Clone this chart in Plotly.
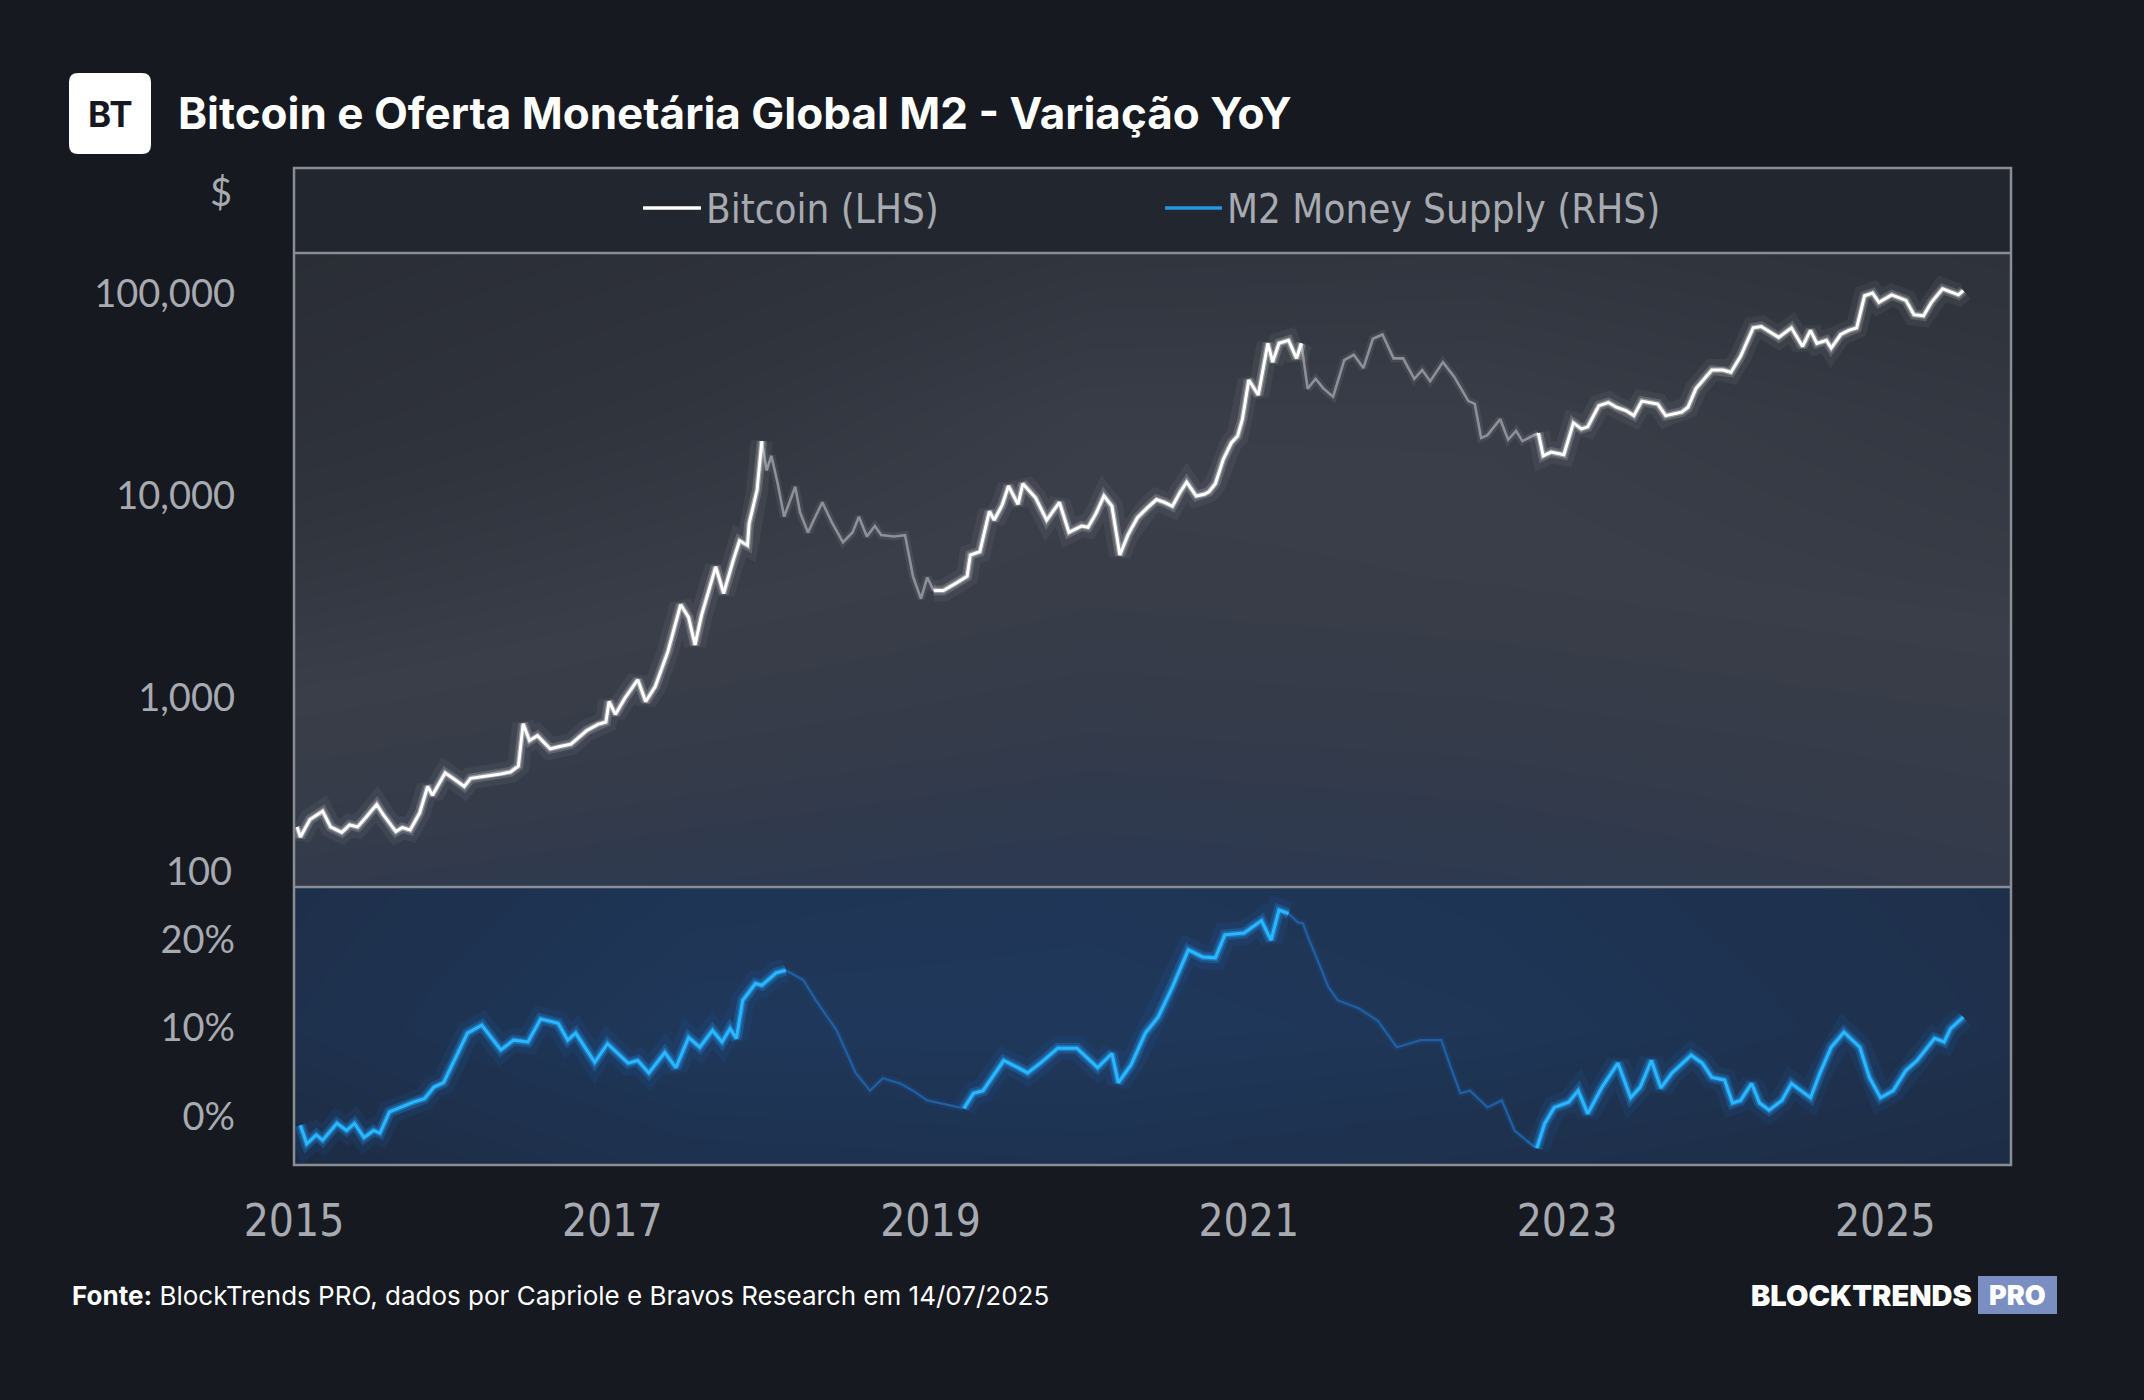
import plotly.graph_objects as go

# ---------------- data ----------------
btc_year = [2015.02, 2015.04, 2015.10, 2015.18, 2015.23, 2015.30, 2015.35, 2015.40, 2015.45, 2015.52,
            2015.56, 2015.64, 2015.68, 2015.73, 2015.79, 2015.84, 2015.87, 2015.95, 2016.01, 2016.07,
            2016.11, 2016.16, 2016.23, 2016.30, 2016.36, 2016.41, 2016.44, 2016.48, 2016.53, 2016.61,
            2016.67, 2016.74, 2016.84, 2016.91, 2016.96, 2016.98, 2017.02, 2017.08, 2017.16, 2017.21,
            2017.27, 2017.35, 2017.43, 2017.48, 2017.52, 2017.56, 2017.65, 2017.70, 2017.76, 2017.80,
            2017.85, 2017.86, 2017.91, 2017.94, 2017.97, 2018.00, 2018.04, 2018.08, 2018.12, 2018.15,
            2018.18, 2018.23, 2018.28, 2018.32, 2018.38, 2018.45, 2018.51, 2018.55, 2018.60, 2018.65,
            2018.69, 2018.77, 2018.84, 2018.89, 2018.94, 2018.98, 2019.02, 2019.08, 2019.16, 2019.23,
            2019.25, 2019.31, 2019.37, 2019.40, 2019.45, 2019.49, 2019.55, 2019.58, 2019.66, 2019.73,
            2019.81, 2019.87, 2019.95, 2019.99, 2020.04, 2020.09, 2020.14, 2020.19, 2020.24, 2020.30,
            2020.36, 2020.42, 2020.47, 2020.52, 2020.57, 2020.61, 2020.67, 2020.72, 2020.75, 2020.79,
            2020.84, 2020.89, 2020.93, 2020.96, 2021.00, 2021.06, 2021.12, 2021.15, 2021.19, 2021.25,
            2021.30, 2021.33, 2021.37, 2021.42, 2021.47, 2021.53, 2021.60, 2021.66, 2021.72, 2021.78,
            2021.84, 2021.91, 2021.97, 2022.04, 2022.09, 2022.14, 2022.22, 2022.29, 2022.38, 2022.42,
            2022.46, 2022.50, 2022.58, 2022.63, 2022.68, 2022.72, 2022.82, 2022.85, 2022.90, 2022.98,
            2023.04, 2023.09, 2023.13, 2023.20, 2023.26, 2023.31, 2023.37, 2023.42, 2023.47, 2023.57,
            2023.62, 2023.72, 2023.76, 2023.81, 2023.91, 2023.98, 2024.03, 2024.09, 2024.17, 2024.22,
            2024.33, 2024.41, 2024.48, 2024.53, 2024.57, 2024.63, 2024.66, 2024.72, 2024.77, 2024.82,
            2024.87, 2024.92, 2024.96, 2025.04, 2025.13, 2025.18, 2025.24, 2025.29, 2025.36, 2025.46,
            2025.49]
btc_price = [230, 205, 250, 275, 230, 216, 235, 230, 255, 297,
             265, 218, 228, 222, 270, 365, 330, 425, 395, 365,
             400, 405, 410, 420, 430, 460, 745, 615, 650, 560,
             575, 590, 690, 740, 760, 960, 830, 1000, 1230, 960,
             1140, 1700, 2900, 2500, 1830, 2550, 4460, 3300, 4800, 6000,
             5700, 7300, 10700, 18700, 13400, 15800, 11500, 7900, 9500, 11100,
             8300, 6600, 8000, 9300, 7400, 5900, 6600, 7900, 6300, 7100,
             6400, 6300, 6400, 4000, 3100, 3950, 3400, 3400, 3700, 4000,
             5100, 5300, 8400, 7600, 9000, 11200, 9100, 11500, 9800, 7600,
             9300, 6600, 7100, 7000, 8200, 10000, 8900, 5100, 6400, 7800,
             8700, 9600, 9300, 8900, 10500, 11700, 10000, 10200, 10500, 11500,
             15200, 18300, 19800, 24000, 37500, 31600, 57000, 46000, 57000, 59000,
             48000, 57000, 34000, 38000, 34000, 31000, 47000, 50000, 43000, 60000,
             63000, 48000, 48000, 38000, 42000, 37000, 46000, 39000, 29500, 28600,
             19400, 20000, 24000, 19000, 21000, 18700, 20500, 15800, 16500, 16000,
             23000, 21500, 22000, 28000, 29000, 27500, 26500, 25000, 29500, 28500,
             25000, 26000, 27500, 34000, 42000, 42000, 41000, 49000, 68000, 69000,
             61000, 68000, 55000, 66000, 57000, 59000, 54000, 63000, 66000, 68000,
             98000, 101000, 91000, 99000, 93000, 79000, 78000, 91000, 106000, 99000,
             104000]

m2_year = [2015.04, 2015.08, 2015.14, 2015.18, 2015.27, 2015.33, 2015.38, 2015.44, 2015.50, 2015.54,
           2015.60, 2015.69, 2015.75, 2015.82, 2015.88, 2015.94, 2016.00, 2016.09, 2016.18, 2016.30,
           2016.38, 2016.47, 2016.55, 2016.66, 2016.72, 2016.77, 2016.89, 2016.97, 2017.10, 2017.16,
           2017.23, 2017.33, 2017.40, 2017.48, 2017.55, 2017.63, 2017.69, 2017.74, 2017.78, 2017.82,
           2017.90, 2017.94, 2018.03, 2018.09, 2018.20, 2018.28, 2018.41, 2018.53, 2018.62, 2018.70,
           2018.81, 2018.89, 2018.98, 2019.13, 2019.21, 2019.27, 2019.33, 2019.46, 2019.55, 2019.61,
           2019.69, 2019.80, 2019.92, 2020.05, 2020.14, 2020.18, 2020.26, 2020.35, 2020.43, 2020.52,
           2020.62, 2020.71, 2020.79, 2020.85, 2020.97, 2021.08, 2021.14, 2021.19, 2021.25, 2021.31,
           2021.34, 2021.38, 2021.44, 2021.50, 2021.56, 2021.69, 2021.81, 2021.93, 2022.08, 2022.21,
           2022.27, 2022.33, 2022.39, 2022.50, 2022.59, 2022.67, 2022.77, 2022.81, 2022.86, 2022.92,
           2023.01, 2023.07, 2023.13, 2023.22, 2023.32, 2023.40, 2023.46, 2023.53, 2023.59, 2023.66,
           2023.78, 2023.85, 2023.91, 2023.99, 2024.04, 2024.09, 2024.16, 2024.21, 2024.27, 2024.35,
           2024.41, 2024.47, 2024.53, 2024.59, 2024.66, 2024.74, 2024.84, 2024.90, 2024.97, 2025.05,
           2025.13, 2025.20, 2025.31, 2025.37, 2025.41, 2025.49]
m2_yoy = [-1.0, -3.1, -2.1, -2.7, -0.8, -1.6, -0.8, -2.4, -1.6, -1.9,
          0.5, 1.2, 1.6, 2.0, 3.3, 3.8, 6.0, 9.4, 10.3, 7.5,
          8.6, 8.4, 11.0, 10.5, 8.6, 9.4, 6.1, 8.2, 6.0, 6.3,
          4.9, 7.2, 5.5, 8.9, 7.8, 9.7, 8.4, 9.9, 8.8, 13.1,
          15.0, 14.8, 16.2, 16.5, 15.4, 13.1, 9.7, 4.9, 2.9, 4.3,
          3.7, 2.9, 1.8, 1.2, 0.9, 2.6, 2.9, 6.3, 5.5, 4.9,
          6.0, 7.7, 7.7, 5.5, 7.1, 3.8, 5.8, 9.4, 11.2, 14.6,
          18.8, 18.0, 17.9, 20.5, 20.7, 22.1, 19.9, 23.3, 22.9, 21.9,
          21.8, 19.9, 17.3, 14.6, 13.1, 12.2, 10.8, 7.8, 8.6, 8.6,
          5.5, 2.6, 2.9, 1.0, 1.8, -1.6, -3.1, -3.6, -0.8, 1.0,
          1.6, 2.9, 0.3, 3.3, 6.0, 2.1, 3.3, 6.3, 3.2, 4.9,
          6.9, 6.0, 4.4, 4.1, 1.5, 1.8, 3.7, 1.5, 0.7, 1.8,
          3.7, 2.9, 2.1, 4.9, 7.8, 9.5, 7.8, 4.4, 2.1, 2.9,
          5.2, 6.3, 8.8, 8.4, 9.9, 11.2]

# periods drawn highlighted (expansion phases); the rest is drawn dimmed
btc_bright_periods = [(2015.0, 2017.94), (2019.02, 2021.33), (2022.82, 2026.0)]
m2_bright_periods = [(2015.0, 2018.09), (2019.21, 2021.25), (2022.81, 2026.0)]

x_tick_years = [2015, 2017, 2019, 2021, 2023, 2025]
btc_tick_vals = [1000, 10000, 100000]
btc_tick_text = ["1,000", "10,000", "100,000"]
m2_tick_vals = [0, 10, 20]
m2_tick_text = ["0%", "10%", "20%"]
legend_names = ["Bitcoin (LHS)", "M2 Money Supply (RHS)"]

title_text = "Bitcoin e Oferta Monetária Global M2 - Variação YoY"
source_text = "<b>Fonte:</b> BlockTrends PRO, dados por Capriole e Bravos Research em 14/07/2025"

# ---------------- layout geometry (pixels) ----------------
W, H = 2144, 1400
L, R, T, B = 294, 2011, 253, 1165
DIV = 887
LEG_TOP = 168
X_RANGE = [2015, 2025.79]
BTC_LOG_RANGE = [2.064, 5.203]
M2_RANGE = [-5.5, 25.9]


def px(x):
    return (x - L) / (R - L)


def py(y):
    return (B - y) / (B - T)


def split(xs, ys, periods):
    flag = [any(a <= x <= b for a, b in periods) for x in xs]
    bright = [y if f else None for y, f in zip(ys, flag)]
    dim = []
    n = len(xs)
    for i in range(n):
        keep = (not flag[i]) or (i > 0 and not flag[i - 1]) or (i < n - 1 and not flag[i + 1])
        dim.append(ys[i] if keep else None)
    return bright, dim


fig = go.Figure()

# background gradients (heatmaps behind the lines)
hx = [2014.0, 2017.5, 2020.0, 2022.5, 2026.5]
btc_hy = [10 ** 1.9, 10 ** 2.8, 10 ** 3.6, 10 ** 4.4, 10 ** 5.35]
btc_hz = [[0.72, 0.80, 0.84, 0.80, 0.70],
          [0.52, 0.62, 0.68, 0.66, 0.58],
          [0.32, 0.47, 0.55, 0.52, 0.44],
          [0.14, 0.32, 0.48, 0.48, 0.34],
          [0.04, 0.16, 0.28, 0.30, 0.20]]
fig.add_trace(go.Heatmap(x=hx, y=btc_hy, z=btc_hz, zsmooth="best", showscale=False,
                         hoverinfo="skip", zmin=0, zmax=1,
                         colorscale=[[0, "#272a31"], [0.3, "#30343d"], [0.5, "#3a3e48"],
                                     [0.65, "#353b49"], [0.8, "#2c3951"], [1, "#273b5b"]],
                         xaxis="x", yaxis="y"))
m2_hy = [-8, 10, 28]
m2_hz = [[0.25, 0.55, 0.60, 0.50, 0.35],
         [0.45, 0.85, 0.85, 0.78, 0.50],
         [0.40, 0.72, 0.78, 0.70, 0.45]]
fig.add_trace(go.Heatmap(x=hx, y=m2_hy, z=m2_hz, zsmooth="best", showscale=False,
                         hoverinfo="skip", zmin=0, zmax=1,
                         colorscale=[[0, "#1b2436"], [0.5, "#1e2f4a"], [1, "#1f3b61"]],
                         xaxis="x", yaxis="y2"))

# Bitcoin line
btc_b, btc_d = split(btc_year, btc_price, btc_bright_periods)
for w, c in [(8, "rgba(170,173,180,0.12)"), (2.6, "#8d9097")]:
    fig.add_trace(go.Scatter(x=btc_year, y=btc_d, mode="lines", line=dict(color=c, width=w),
                             hoverinfo="skip", xaxis="x", yaxis="y"))
for w, c in [(22, "rgba(255,255,255,0.05)"), (10, "rgba(255,255,255,0.16)"), (5.5, "rgba(255,255,255,0.35)")]:
    fig.add_trace(go.Scatter(x=btc_year, y=btc_b, mode="lines", line=dict(color=c, width=w),
                             hoverinfo="skip", xaxis="x", yaxis="y"))
fig.add_trace(go.Scatter(x=btc_year, y=btc_b, mode="lines", line=dict(color="#ffffff", width=3),
                         name=legend_names[0], xaxis="x", yaxis="y"))

# M2 line
m2_b, m2_d = split(m2_year, m2_yoy, m2_bright_periods)
for w, c in [(7, "rgba(30,100,180,0.15)"), (2.3, "#1f5fa3")]:
    fig.add_trace(go.Scatter(x=m2_year, y=m2_d, mode="lines", line=dict(color=c, width=w),
                             hoverinfo="skip", xaxis="x", yaxis="y2"))
for w, c in [(24, "rgba(20,140,255,0.08)"), (11, "rgba(30,160,255,0.24)"), (6, "rgba(40,170,255,0.42)")]:
    fig.add_trace(go.Scatter(x=m2_year, y=m2_b, mode="lines", line=dict(color=c, width=w),
                             hoverinfo="skip", xaxis="x", yaxis="y2"))
fig.add_trace(go.Scatter(x=m2_year, y=m2_b, mode="lines", line=dict(color="#28b8ff", width=3),
                         name=legend_names[1], xaxis="x", yaxis="y2"))

grey = "#a7aab0"
frame = "#8a8d94"
y_font = dict(family="Lato, Noto Sans, sans-serif", size=38, color=grey)
narrow = "Liberation Sans Narrow, DejaVu Sans Condensed, Roboto, sans-serif"

dom_split = (B - DIV) / (B - T)


def rounded_rect(x0, y0, x1, y1, r):
    X0, X1 = px(x0), px(x1)
    Y0, Y1 = py(y0), py(y1)
    rx = r / (R - L)
    ry = r / (B - T)
    return (f"M {X0+rx},{Y0} L {X1-rx},{Y0} Q {X1},{Y0} {X1},{Y0-ry} "
            f"L {X1},{Y1+ry} Q {X1},{Y1} {X1-rx},{Y1} L {X0+rx},{Y1} "
            f"Q {X0},{Y1} {X0},{Y1+ry} L {X0},{Y0-ry} Q {X0},{Y0} {X0+rx},{Y0} Z")


LEG_Y = 208
shapes = [
    dict(type="rect", xref="paper", yref="paper", x0=0, x1=1, y0=py(T), y1=py(LEG_TOP),
         fillcolor="#22262e", line=dict(width=0), layer="below"),
    dict(type="rect", xref="paper", yref="paper", x0=0, x1=1, y0=0, y1=py(LEG_TOP),
         line=dict(color=frame, width=2.5), fillcolor="rgba(0,0,0,0)", layer="above"),
    dict(type="line", xref="paper", yref="paper", x0=0, x1=1, y0=py(T), y1=py(T),
         line=dict(color=frame, width=2.5), layer="above"),
    dict(type="line", xref="paper", yref="paper", x0=0, x1=1, y0=py(DIV), y1=py(DIV),
         line=dict(color=frame, width=2.5), layer="above"),
    # legend keys
    dict(type="line", xref="paper", yref="paper", x0=px(643), x1=px(701), y0=py(LEG_Y), y1=py(LEG_Y),
         line=dict(color="#ffffff", width=3.5)),
    dict(type="line", xref="paper", yref="paper", x0=px(1165), x1=px(1222), y0=py(LEG_Y), y1=py(LEG_Y),
         line=dict(color="#1e9ae6", width=3.5)),
    # logo and PRO badge
    dict(type="path", xref="paper", yref="paper", path=rounded_rect(69, 73, 151, 154, 9),
         fillcolor="#ffffff", line=dict(width=0)),
    dict(type="rect", xref="paper", yref="paper", x0=px(1978), x1=px(2057), y0=py(1314), y1=py(1276),
         fillcolor="#7b8ec2", line=dict(width=0)),
]

annotations = [
    dict(text=f"<b>{title_text}</b>", x=px(176), y=py(113), xanchor="left", yanchor="middle",
         font=dict(family="Inter, sans-serif", size=44, color="#ffffff")),
    dict(text="<b>BT</b>", x=px(110), y=py(114), xanchor="center", yanchor="middle",
         font=dict(family="Inter, sans-serif", size=35, color="#16181f", weight=800)),
    dict(text="$", x=px(234), y=py(191), xanchor="right", yanchor="middle", font=y_font),
    dict(text="100", x=px(234), y=py(870), xanchor="right", yanchor="middle", font=y_font),
    dict(text=legend_names[0], x=px(704), y=py(LEG_Y + 1), xanchor="left", yanchor="middle",
         font=dict(family=narrow, size=40, color=grey)),
    dict(text=legend_names[1], x=px(1225), y=py(LEG_Y + 1), xanchor="left", yanchor="middle",
         font=dict(family=narrow, size=40, color=grey)),
    dict(text=source_text, x=px(70), y=py(1295), xanchor="left", yanchor="middle",
         font=dict(family="Inter, sans-serif", size=26, color="#ffffff")),
    dict(text="BLOCKTRENDS", x=px(1974), y=py(1295), xanchor="right", yanchor="middle",
         font=dict(family="Inter, sans-serif", size=29, color="#ffffff", weight=900)),
    dict(text="PRO", x=px(2017), y=py(1295), xanchor="center", yanchor="middle",
         font=dict(family="Inter, sans-serif", size=27, color="#ffffff", weight=900)),
]
for a in annotations:
    a.update(xref="paper", yref="paper", showarrow=False)

fig.update_layout(
    width=W, height=H,
    margin=dict(l=L, r=W - R, t=T, b=H - B, pad=0),
    paper_bgcolor="#161920",
    plot_bgcolor="#2a2e37",
    showlegend=False,
    xaxis=dict(range=X_RANGE, anchor="y2", tickvals=x_tick_years,
               ticktext=[str(v) for v in x_tick_years], showgrid=False, zeroline=False,
               showline=False, ticks="", ticklabelstandoff=26,
               tickfont=dict(family=narrow, size=44, color=grey)),
    yaxis=dict(type="log", range=BTC_LOG_RANGE, domain=[dom_split, 1], tickvals=btc_tick_vals,
               ticktext=btc_tick_text, showgrid=False, zeroline=False, showline=False, ticks="",
               ticklabelstandoff=58, tickfont=y_font),
    yaxis2=dict(range=M2_RANGE, domain=[0, dom_split], tickvals=m2_tick_vals, ticktext=m2_tick_text,
                showgrid=False, zeroline=False, showline=False, ticks="", ticklabelstandoff=58,
                tickfont=y_font),
    shapes=shapes,
    annotations=annotations,
)

fig.write_html("out.html")
